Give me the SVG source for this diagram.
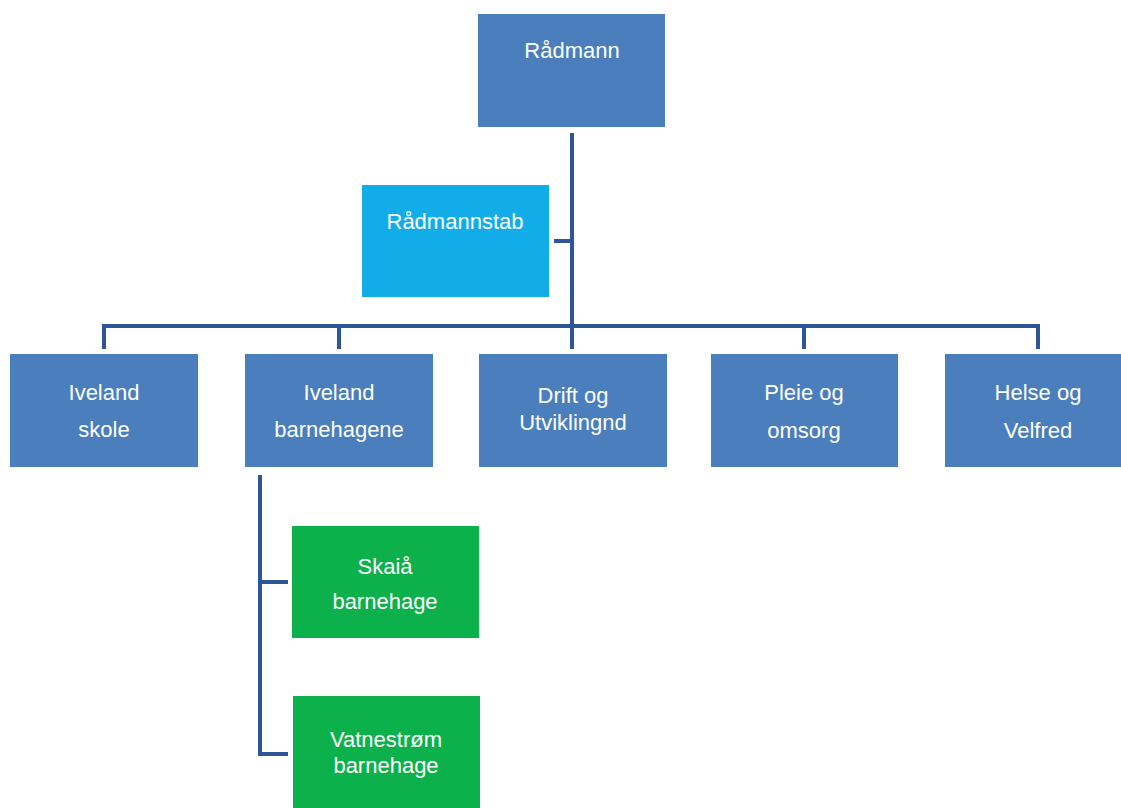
<svg xmlns="http://www.w3.org/2000/svg" width="1121" height="808" viewBox="0 0 1121 808">
<style>
.box{fill:#4a7ebd}
.stab{fill:#12ade8}
.grn{fill:#0db14b}
.lbl{font-family:"Liberation Sans","DejaVu Sans",sans-serif;font-size:22px;fill:#ffffff;text-anchor:middle}
.con{fill:none;stroke:#2e5597;stroke-width:4;stroke-linecap:butt;stroke-linejoin:miter}
</style>
<rect width="1121" height="808" fill="#ffffff"/>
<g id="connectors">
<path class="con" d="M572,133 V349"/>
<path class="con" d="M554,241 H572"/>
<path class="con" d="M104,349 V326 H1038 V349"/>
<path class="con" d="M339,326 V349"/>
<path class="con" d="M804,326 V349"/>
<path class="con" d="M260,475 V754 H288"/>
<path class="con" d="M260,582 H288"/>
</g>
<g id="node-radmann">
<rect class="box" x="478" y="14" width="187" height="113"/>
<text class="lbl" x="572" y="58">Rådmann</text>
</g>
<g id="node-radmannstab">
<rect class="stab" x="362" y="185" width="187" height="112"/>
<text class="lbl" x="455" y="229">Rådmannstab</text>
</g>
<g id="node-iveland-skole">
<rect class="box" x="10" y="354" width="188" height="113"/>
<text class="lbl" x="104" y="400">Iveland</text>
<text class="lbl" x="104" y="437">skole</text>
</g>
<g id="node-iveland-barnehagene">
<rect class="box" x="245" y="354" width="188" height="113"/>
<text class="lbl" x="339" y="400">Iveland</text>
<text class="lbl" x="339" y="437">barnehagene</text>
</g>
<g id="node-drift">
<rect class="box" x="479" y="354" width="188" height="113"/>
<text class="lbl" x="573" y="403">Drift og</text>
<text class="lbl" x="573" y="430">Utviklingnd</text>
</g>
<g id="node-pleie">
<rect class="box" x="711" y="354" width="187" height="113"/>
<text class="lbl" x="804" y="400">Pleie og</text>
<text class="lbl" x="804" y="438">omsorg</text>
</g>
<g id="node-helse">
<rect class="box" x="945" y="354" width="186" height="113"/>
<text class="lbl" x="1038" y="400">Helse og</text>
<text class="lbl" x="1038" y="438">Velfred</text>
</g>
<g id="node-skaia">
<rect class="grn" x="292" y="526" width="187" height="112"/>
<text class="lbl" x="385" y="574">Skaiå</text>
<text class="lbl" x="385" y="609">barnehage</text>
</g>
<g id="node-vatnestrom">
<rect class="grn" x="293" y="696" width="187" height="112"/>
<text class="lbl" x="386" y="747">Vatnestrøm</text>
<text class="lbl" x="386" y="773">barnehage</text>
</g>
</svg>
